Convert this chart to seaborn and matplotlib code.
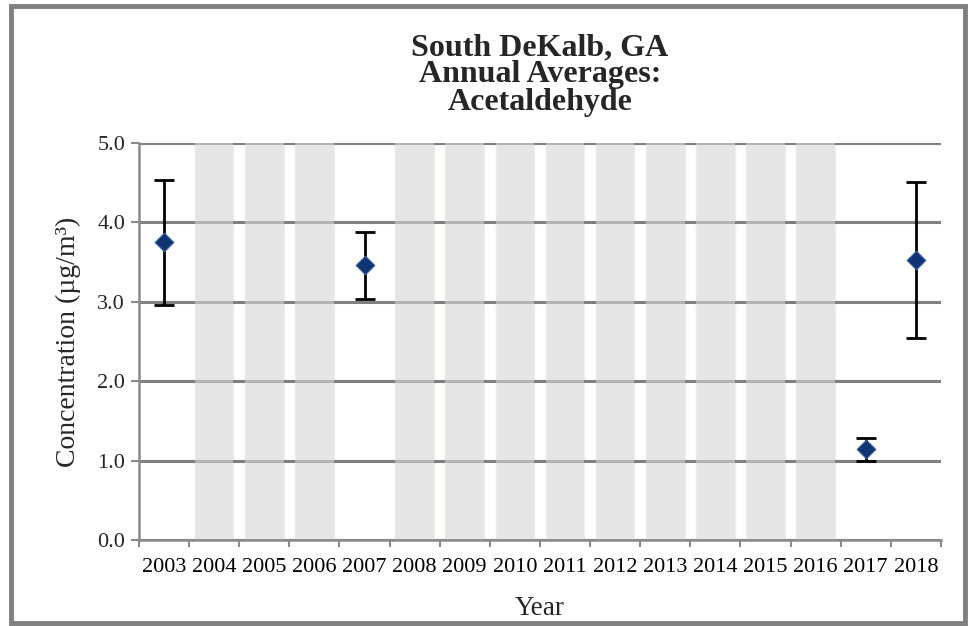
import numpy as np
import pandas as pd
import matplotlib
matplotlib.use("Agg")
import matplotlib.pyplot as plt
import seaborn as sns
from matplotlib.patches import Rectangle

# data
years = ["2003", "2004", "2005", "2006", "2007", "2008", "2009", "2010",
         "2011", "2012", "2013", "2014", "2015", "2016", "2017", "2018"]
data_years = ["2003", "2007", "2017", "2018"]
means = [3.75, 3.46, 1.14, 3.53]
ci_low = [2.96, 3.04, 1.00, 2.55]
ci_high = [4.53, 3.88, 1.29, 4.51]
missing_years = [y for y in years if y not in data_years]
shade_height = 5.0

sns.set_theme(style="white")
plt.rcParams['font.family'] = ['Liberation Serif', 'DejaVu Serif']

fig = plt.figure(figsize=(9.69, 6.26), dpi=100)
ax = fig.add_axes([0.1434, 0.1374, 0.8276, 0.6342])

# gridlines (axis layer, zorder 2.5) sit on top of the shading;
# a second see-through shade above them softens them inside the bars
ax.set_axisbelow(False)
ax.yaxis.grid(True, color='#808080', linewidth=2.2)
ax.xaxis.grid(False)

# grey shading for years without data
shade = pd.DataFrame({"Year": missing_years, "h": [shade_height] * len(missing_years)})
sns.barplot(data=shade, x="Year", y="h", order=years, color='#e6e6e6',
            width=0.77, edgecolor='#f3efe0', linewidth=1.0,
            saturation=1, ax=ax)
n_base = len(ax.patches)
sns.barplot(data=shade, x="Year", y="h", order=years, color='#e6e6e6',
            width=0.77, linewidth=0, saturation=1, ax=ax)
for i, p in enumerate(ax.patches):
    if i < n_base:
        p.set_zorder(1)
    else:
        p.set_facecolor((0.9, 0.9, 0.9, 0.5))
        p.set_zorder(2.6)

# annual averages with confidence intervals
pos = [years.index(y) for y in data_years]
means_a = np.array(means)
yerr = [means_a - np.array(ci_low), np.array(ci_high) - means_a]
ax.errorbar(pos, means, yerr=yerr, fmt='none', ecolor='black',
            elinewidth=2.0, capsize=7, capthick=2.0, zorder=3)
pts = pd.DataFrame({"pos": pos, "mean": means})
sns.scatterplot(data=pts, x="pos", y="mean", marker='D', s=90,
                color='#0f3473', edgecolor='#3a5f9a', linewidth=0.8,
                zorder=4, ax=ax, legend=False)

ax.set_xlim(-0.5, len(years) - 0.5)
ax.set_ylim(0, 5.0)
ax.set_yticks(np.arange(0, 5.01, 1.0))
ax.set_yticklabels([f"{v:.1f}" for v in np.arange(0, 5.01, 1.0)])
ax.set_xticks(range(len(years)))
ax.set_xticklabels(years)
# x ticks sit between categories
ax.set_xticks(np.arange(-0.5, len(years), 1.0), minor=True)
ax.tick_params(axis='x', which='major', length=0, labelsize=16, pad=13,
               colors='black')
ax.tick_params(axis='x', which='minor', length=5, width=1.5, color='#8a8a8a',
               bottom=True)
ax.tick_params(axis='y', which='major', length=6, width=1.5, color='#8a8a8a',
               labelsize=16, left=True, pad=4)

for s in ['top', 'right']:
    ax.spines[s].set_visible(False)
for s in ['left', 'bottom']:
    ax.spines[s].set_color('#8a8a8a')
    ax.spines[s].set_linewidth(1.8)
    ax.spines[s].set_zorder(5)

ax.set_xlabel("Year", fontsize=19.5, labelpad=14)
ax.set_ylabel("Concentration (µg/m³)", fontsize=20, labelpad=12)
ax.set_title("South DeKalb, GA\nAnnual Averages:\nAcetaldehyde", fontsize=23,
             fontweight='bold', pad=24, linespacing=0.92)

# outer frame of the chart
fig.patches.append(Rectangle((0.011, 0.005), 0.985, 0.986, transform=fig.transFigure,
                             fill=False, edgecolor='#808080', linewidth=3.5))

fig.savefig("out.png", dpi=100, facecolor='white')
